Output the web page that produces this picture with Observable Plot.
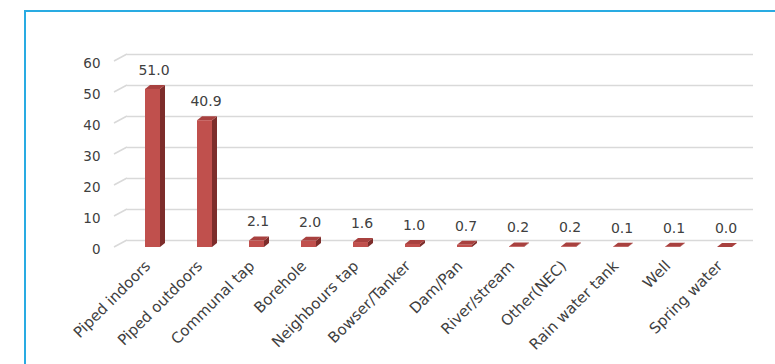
<!DOCTYPE html>
<html><head><meta charset="utf-8">
<script src="https://cdn.jsdelivr.net/npm/d3@7"></script>
<script src="https://cdn.jsdelivr.net/npm/@observablehq/plot@0.6"></script>
<style>
html,body{margin:0;padding:0;background:#fff;overflow:hidden}
#wrap{position:relative;width:775px;height:364px;overflow:hidden}
#frame{position:absolute;left:24px;top:10px;width:800px;height:400px;border-left:2px solid #29abe2;border-top:2px solid #29abe2}
#chart{position:absolute;left:0;top:0}
</style></head><body>
<div id="wrap"><div id="frame"></div><div id="chart"></div></div>
<script>
const categories = ["Piped indoors","Piped outdoors","Communal tap","Borehole","Neighbours tap","Bowser/Tanker","Dam/Pan","River/stream","Other(NEC)","Rain water tank","Well","Spring water"];
const values = [51.0, 40.9, 2.1, 2.0, 1.6, 1.0, 0.7, 0.2, 0.2, 0.1, 0.1, 0.0];
const yTicks = [0, 10, 20, 30, 40, 50, 60];

const data = categories.map((c, i) => ({category: c, value: values[i]}));

const DX = 13, DY = -7;     // back-wall offset of the floor/gridlines
const BX = 5, BY = -4;      // bar depth
const font = "DejaVu Sans, sans-serif";

function barRender(index, scales, vals, dims, context, next) {
  const g = next(index, scales, vals, dims, context);
  const wrap = d3.create("svg:g");
  const sides = wrap.append("g");
  wrap.node().appendChild(g);
  d3.select(g).selectAll("rect").each(function() {
    const r = d3.select(this);
    const x0 = +r.attr("x"), w = +r.attr("width");
    const y0 = +r.attr("y"), h = +r.attr("height");
    const x1 = x0 + w, yb = y0 + h;
    sides.append("polygon")
      .attr("points", [[x1, y0], [x1 + BX, y0 + BY], [x1 + BX, yb + BY], [x1, yb]].join(" "))
      .attr("fill", "#7d2d2b");
    sides.append("polygon")
      .attr("points", [[x0, y0], [x0 + BX, y0 + BY], [x1 + BX, y0 + BY], [x1, y0]].join(" "))
      .attr("fill", "#a8413f");
  });
  return wrap.node();
}

function diagRender(index, scales, vals, dims) {
  const g = d3.create("svg:g").attr("stroke", "#d9d9d9").attr("stroke-width", 1.5);
  for (const i of index) {
    const yy = vals.y[i];
    g.append("line")
      .attr("x1", dims.marginLeft).attr("y1", yy)
      .attr("x2", dims.marginLeft + DX).attr("y2", yy + DY);
  }
  return g.node();
}

const chart = Plot.plot({
  width: 775,
  height: 364,
  marginLeft: 114,
  marginRight: 35,
  marginTop: 61,
  marginBottom: 117,
  style: {fontFamily: font, fontSize: "13.5px", color: "#404040", background: "transparent", overflow: "visible"},
  x: {domain: categories, range: [125.5, 751], paddingInner: 0.71, paddingOuter: 0.355, axis: null},
  y: {domain: [0, 60], axis: null},
  marks: [
    Plot.axisY({ticks: yTicks, tickSize: 0, tickPadding: 14, dy: 2, label: null, fill: "#404040"}),
    Plot.ruleY(yTicks, {y: d => d, dx: DX, dy: DY, stroke: "#d9d9d9", strokeWidth: 1.5}),
    Plot.ruleY(yTicks, {y: d => d, render: diagRender}),
    Plot.barY(data, {x: "category", y: "value", fill: "#c0504d", render: barRender}),
    Plot.text(data, {x: "category", y: "value", text: d => d.value.toFixed(1), dy: -19, dx: 1, fill: "#404040", fontSize: 14}),
    Plot.text(data, {x: "category", y: d => 0, text: "category", rotate: -45, textAnchor: "end", dx: -5, dy: 16, fill: "#404040", fontSize: 15})
  ]
});
document.getElementById("chart").appendChild(chart);
</script>
</body></html>
